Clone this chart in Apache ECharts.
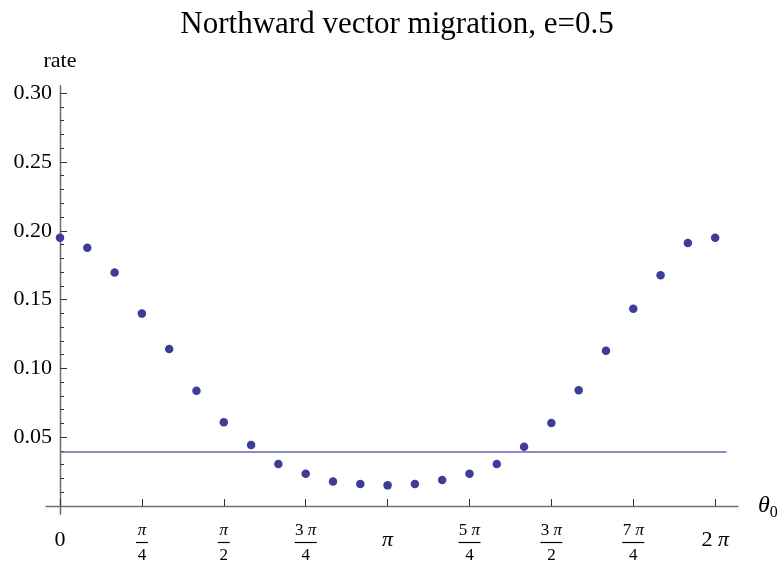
<!DOCTYPE html>
<html>
<head>
<meta charset="utf-8">
<script src="https://cdn.jsdelivr.net/npm/echarts@6/dist/echarts.min.js"></script>
<style>
  html, body { margin: 0; padding: 0; background: #ffffff; }
  #chart { width: 778px; height: 565px; }
</style>
</head>
<body>
<div id="chart"></div>
<script>
// Starting angle θ0 (radians) of each sampled trajectory
const theta0 = [0, 0.2618, 0.5236, 0.7854, 1.0472, 1.3090, 1.5708, 1.8326, 2.0944,
  2.3562, 2.6180, 2.8798, 3.1416, 3.4034, 3.6652, 3.9270, 4.1888, 4.4506, 4.7124,
  4.9742, 5.2360, 5.4978, 5.7596, 6.0214, 6.2832];

// Northward migration rate for each θ0
const rate = [0.1950, 0.1877, 0.1696, 0.1398, 0.1141, 0.0838, 0.0608, 0.0443, 0.0305,
  0.0235, 0.0179, 0.0160, 0.0150, 0.0160, 0.0189, 0.0235, 0.0305, 0.0431, 0.0603,
  0.0841, 0.1129, 0.1434, 0.1677, 0.1911, 0.1950];

// Reference level drawn as a horizontal line
const referenceRate = 0.0393;
const referenceSpan = [0, 6.392];

// Axis ticks
const xTickValues = [0, 0.7854, 1.5708, 2.3562, 3.1416, 3.9270, 4.7124, 5.4978, 6.2832];
const xTickNumerators = ['0', 'π', 'π', '3 π', 'π', '5 π', '3 π', '7 π', '2 π'];
const xTickDenominators = ['', '4', '2', '4', '', '4', '2', '4', ''];
const yTickValues = [0.05, 0.10, 0.15, 0.20, 0.25, 0.30];
const yMinorTickValues = [0.01, 0.02, 0.03, 0.04, 0.06, 0.07, 0.08, 0.09, 0.11, 0.12,
  0.13, 0.14, 0.16, 0.17, 0.18, 0.19, 0.21, 0.22, 0.23, 0.24, 0.26, 0.27, 0.28, 0.29];

const SERIF = '"Liberation Serif", "Times New Roman", "DejaVu Serif", serif';
const AXIS_GRAY = '#6e6e6e';
const TICK_DARK = '#333333';
const POINT_BLUE = '#3d3d99';

// Turn "3 π" into rich-text tokens with an italic π
function piTokens(text, plainStyle, piStyle) {
  const parts = text.split('π');
  let out = '';
  parts.forEach((p, i) => {
    if (p) out += '{' + plainStyle + '|' + p + '}';
    if (i < parts.length - 1) out += '{' + piStyle + '|π}';
  });
  return out;
}

function xLabel(value) {
  const idx = xTickValues.findIndex(v => Math.abs(v - value) < 1e-3);
  if (idx < 0) return '';
  const num = xTickNumerators[idx];
  const den = xTickDenominators[idx];
  if (!den) return piTokens(num, 'pn', 'pp');
  const bar = num.length > 1 ? 'barL' : 'barS';
  return piTokens(num, 'fn', 'fp') + '\n{' + bar + '| }\n{fd|' + den + '}';
}

const chart = echarts.init(document.getElementById('chart'), null, { renderer: 'canvas' });

chart.setOption({
  animation: false,
  backgroundColor: '#ffffff',
  title: {
    text: 'Northward vector migration, e=0.5',
    left: 392,
    textAlign: 'center',
    top: 4,
    textStyle: { fontFamily: SERIF, fontSize: 31, fontWeight: 'normal', color: '#000' }
  },
  grid: { left: 46, right: 40, top: 86, bottom: 51, containLabel: false, outerBoundsMode: 'none' },
  xAxis: [{
    type: 'value',
    min: -0.1343,
    max: 6.502,
    axisLine: { show: true, onZero: true, lineStyle: { color: AXIS_GRAY, width: 1.3 } },
    axisTick: { show: true, inside: true, length: 7, customValues: xTickValues,
      lineStyle: { color: TICK_DARK, width: 1 } },
    axisLabel: {
      show: true,
      customValues: xTickValues,
      margin: 8,
      formatter: xLabel,
      rich: {
        pn: { fontFamily: SERIF, fontSize: 22, color: '#000', lineHeight: 36, align: 'center' },
        pp: { fontFamily: SERIF, fontSize: 22, fontStyle: 'italic', color: '#000', lineHeight: 36, align: 'center' },
        fn: { fontFamily: SERIF, fontSize: 17, color: '#000', lineHeight: 18, align: 'center' },
        fp: { fontFamily: SERIF, fontSize: 17, fontStyle: 'italic', color: '#000', lineHeight: 18, align: 'center' },
        fd: { fontFamily: SERIF, fontSize: 17, color: '#000', lineHeight: 22, align: 'center' },
        barS: { width: 12, height: 1.2, lineHeight: 5, backgroundColor: '#000', align: 'center', fontSize: 4 },
        barL: { width: 22, height: 1.2, lineHeight: 5, backgroundColor: '#000', align: 'center', fontSize: 4 }
      }
    },
    splitLine: { show: false },
    name: '{t|θ}{s|0}',
    nameLocation: 'end',
    nameGap: 20,
    nameTextStyle: {
      rich: {
        t: { fontFamily: SERIF, fontSize: 24, fontStyle: 'italic', color: '#000' },
        s: { fontFamily: SERIF, fontSize: 16, color: '#000', padding: [14, 0, 0, 0] }
      }
    }
  }],
  yAxis: [{
    type: 'value',
    min: -0.0058,
    max: 0.3052,
    position: 'left',
    axisLine: { show: true, onZero: true, onZeroAxisIndex: 0, lineStyle: { color: AXIS_GRAY, width: 1.3 } },
    axisTick: { show: true, inside: true, length: 7, customValues: yTickValues,
      lineStyle: { color: TICK_DARK, width: 1 } },
    axisLabel: {
      show: true,
      customValues: yTickValues,
      margin: -6,
      formatter: v => v.toFixed(2),
      fontFamily: SERIF, fontSize: 22, color: '#000'
    },
    splitLine: { show: false },
    name: 'rate',
    nameLocation: 'end',
    nameGap: 14,
    nameTextStyle: { fontFamily: SERIF, fontSize: 22, color: '#000', align: 'center' }
  }, {
    // minor ticks every 0.01
    type: 'value',
    min: -0.0058,
    max: 0.3052,
    position: 'left',
    axisLine: { show: true, onZero: true, onZeroAxisIndex: 0, lineStyle: { color: AXIS_GRAY, width: 1.3 } },
    axisTick: { show: true, inside: true, length: 4, customValues: yMinorTickValues,
      lineStyle: { color: TICK_DARK, width: 1 } },
    axisLabel: { show: false },
    splitLine: { show: false }
  }],
  series: [{
    type: 'line',
    data: referenceSpan.map(x => [x, referenceRate]),
    symbol: 'none',
    lineStyle: { color: '#6464b4', width: 1.4 },
    silent: true,
    z: 2
  }, {
    type: 'scatter',
    data: theta0.map((t, i) => [t, rate[i]]),
    symbol: 'circle',
    symbolSize: 8.5,
    itemStyle: { color: POINT_BLUE, opacity: 1 },
    z: 3
  }]
});
</script>
</body>
</html>
